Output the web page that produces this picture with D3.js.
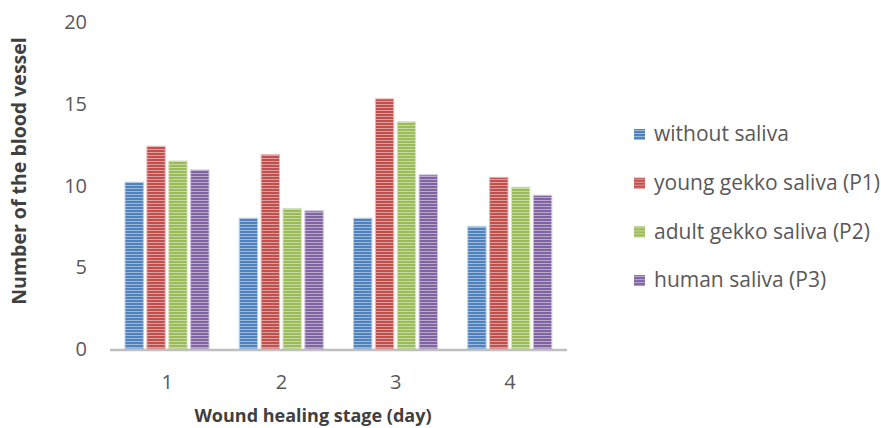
<!DOCTYPE html>
<html>
<head>
<meta charset="utf-8">
<script src="https://cdn.jsdelivr.net/npm/d3@7"></script>
<style>
  body { margin: 0; background: #fff; }
  text { font-family: "Open Sans", "Liberation Sans", sans-serif; }
</style>
</head>
<body>
<div id="chart"></div>
<script>
// data
var days = ["1", "2", "3", "4"];
var seriesNames = ["without saliva", "young gekko saliva (P1)", "adult gekko saliva (P2)", "human saliva (P3)"];
var withoutSaliva = [10.2, 8.0, 8.0, 7.5];
var youngGekko = [12.4, 11.9, 15.3, 10.5];
var adultGekko = [11.5, 8.6, 13.9, 9.9];
var humanSaliva = [10.95, 8.45, 10.65, 9.4];
var yTicks = [0, 5, 10, 15, 20];

var colors = ["#4f81bd", "#c0504d", "#9bbb59", "#8064a2"];
var values = [withoutSaliva, youngGekko, adultGekko, humanSaliva];

var width = 881, height = 428;
var plotLeft = 110, plotRight = 567, plotTop = 22, plotBottom = 349;

var svg = d3.select("#chart").append("svg")
  .attr("width", width)
  .attr("height", height);

// striped fills, one per series
var defs = svg.append("defs");
colors.forEach(function(c, i) {
  var p = defs.append("pattern")
    .attr("id", "stripe" + i)
    .attr("patternUnits", "userSpaceOnUse")
    .attr("width", 6)
    .attr("height", 3);
  p.append("rect").attr("width", 6).attr("height", 3).attr("fill", c);
  p.append("rect").attr("y", 2).attr("width", 6).attr("height", 1)
    .attr("fill", d3.interpolateRgb(c, "#ffffff")(0.45));
});

var x = d3.scaleBand().domain(days).range([plotLeft, plotRight]);
var x1 = d3.scaleBand().domain(d3.range(4)).range([15, 99]).paddingInner(0.16);
var y = d3.scaleLinear().domain([0, 20]).range([plotBottom, plotTop]);

// y tick labels (no axis line, no gridlines)
svg.selectAll(".ytick")
  .data(yTicks)
  .enter()
  .append("text")
  .attr("x", 87)
  .attr("y", function(d) { return y(d); })
  .attr("dy", "0.35em")
  .attr("text-anchor", "end")
  .attr("fill", "#595959")
  .style("font-size", "20px")
  .text(function(d) { return d; });

// bars
var groups = svg.selectAll(".day")
  .data(days)
  .enter()
  .append("g")
  .attr("transform", function(d) { return "translate(" + x(d) + ",0)"; });

groups.selectAll("rect")
  .data(function(d, di) {
    return values.map(function(v, si) { return { s: si, v: v[di] }; });
  })
  .enter()
  .append("rect")
  .attr("x", function(d) { return x1(d.s); })
  .attr("width", x1.bandwidth())
  .attr("y", function(d) { return y(d.v); })
  .attr("height", function(d) { return y(0) - y(d.v); })
  .attr("fill", function(d) { return "url(#stripe" + d.s + ")"; })
  .attr("stroke", function(d) { return d3.interpolateRgb(colors[d.s], "#ffffff")(0.6); })
  .attr("stroke-width", 1);

// x axis line
svg.append("line")
  .attr("x1", plotLeft).attr("x2", plotRight)
  .attr("y1", plotBottom + 1).attr("y2", plotBottom + 1)
  .attr("stroke", "#bfbfbf")
  .attr("stroke-width", 2.5);

// x tick labels
svg.selectAll(".xtick")
  .data(days)
  .enter()
  .append("text")
  .attr("x", function(d) { return x(d) + x.bandwidth() / 2; })
  .attr("y", 389)
  .attr("text-anchor", "middle")
  .attr("fill", "#595959")
  .style("font-size", "20px")
  .text(function(d) { return d; });

// axis titles
svg.append("text")
  .attr("x", 313)
  .attr("y", 422)
  .attr("text-anchor", "middle")
  .attr("fill", "#404040")
  .style("font-size", "18px")
  .style("font-weight", "bold")
  .text("Wound healing stage (day)");

svg.append("text")
  .attr("transform", "translate(26,171) rotate(-90)")
  .attr("text-anchor", "middle")
  .attr("fill", "#404040")
  .style("font-size", "19.5px")
  .style("font-weight", "bold")
  .text("Number of the blood vessel");

// legend
var legend = svg.selectAll(".legend")
  .data(seriesNames)
  .enter()
  .append("g")
  .attr("transform", function(d, i) { return "translate(634," + (134 + i * 48.7) + ")"; });

legend.append("rect")
  .attr("x", 0)
  .attr("y", -5)
  .attr("width", 11)
  .attr("height", 11)
  .attr("fill", function(d, i) { return "url(#stripe" + i + ")"; });

legend.append("text")
  .attr("x", 20)
  .attr("dy", "0.35em")
  .attr("fill", "#595959")
  .style("font-size", "21px")
  .text(function(d) { return d; });
</script>
</body>
</html>
